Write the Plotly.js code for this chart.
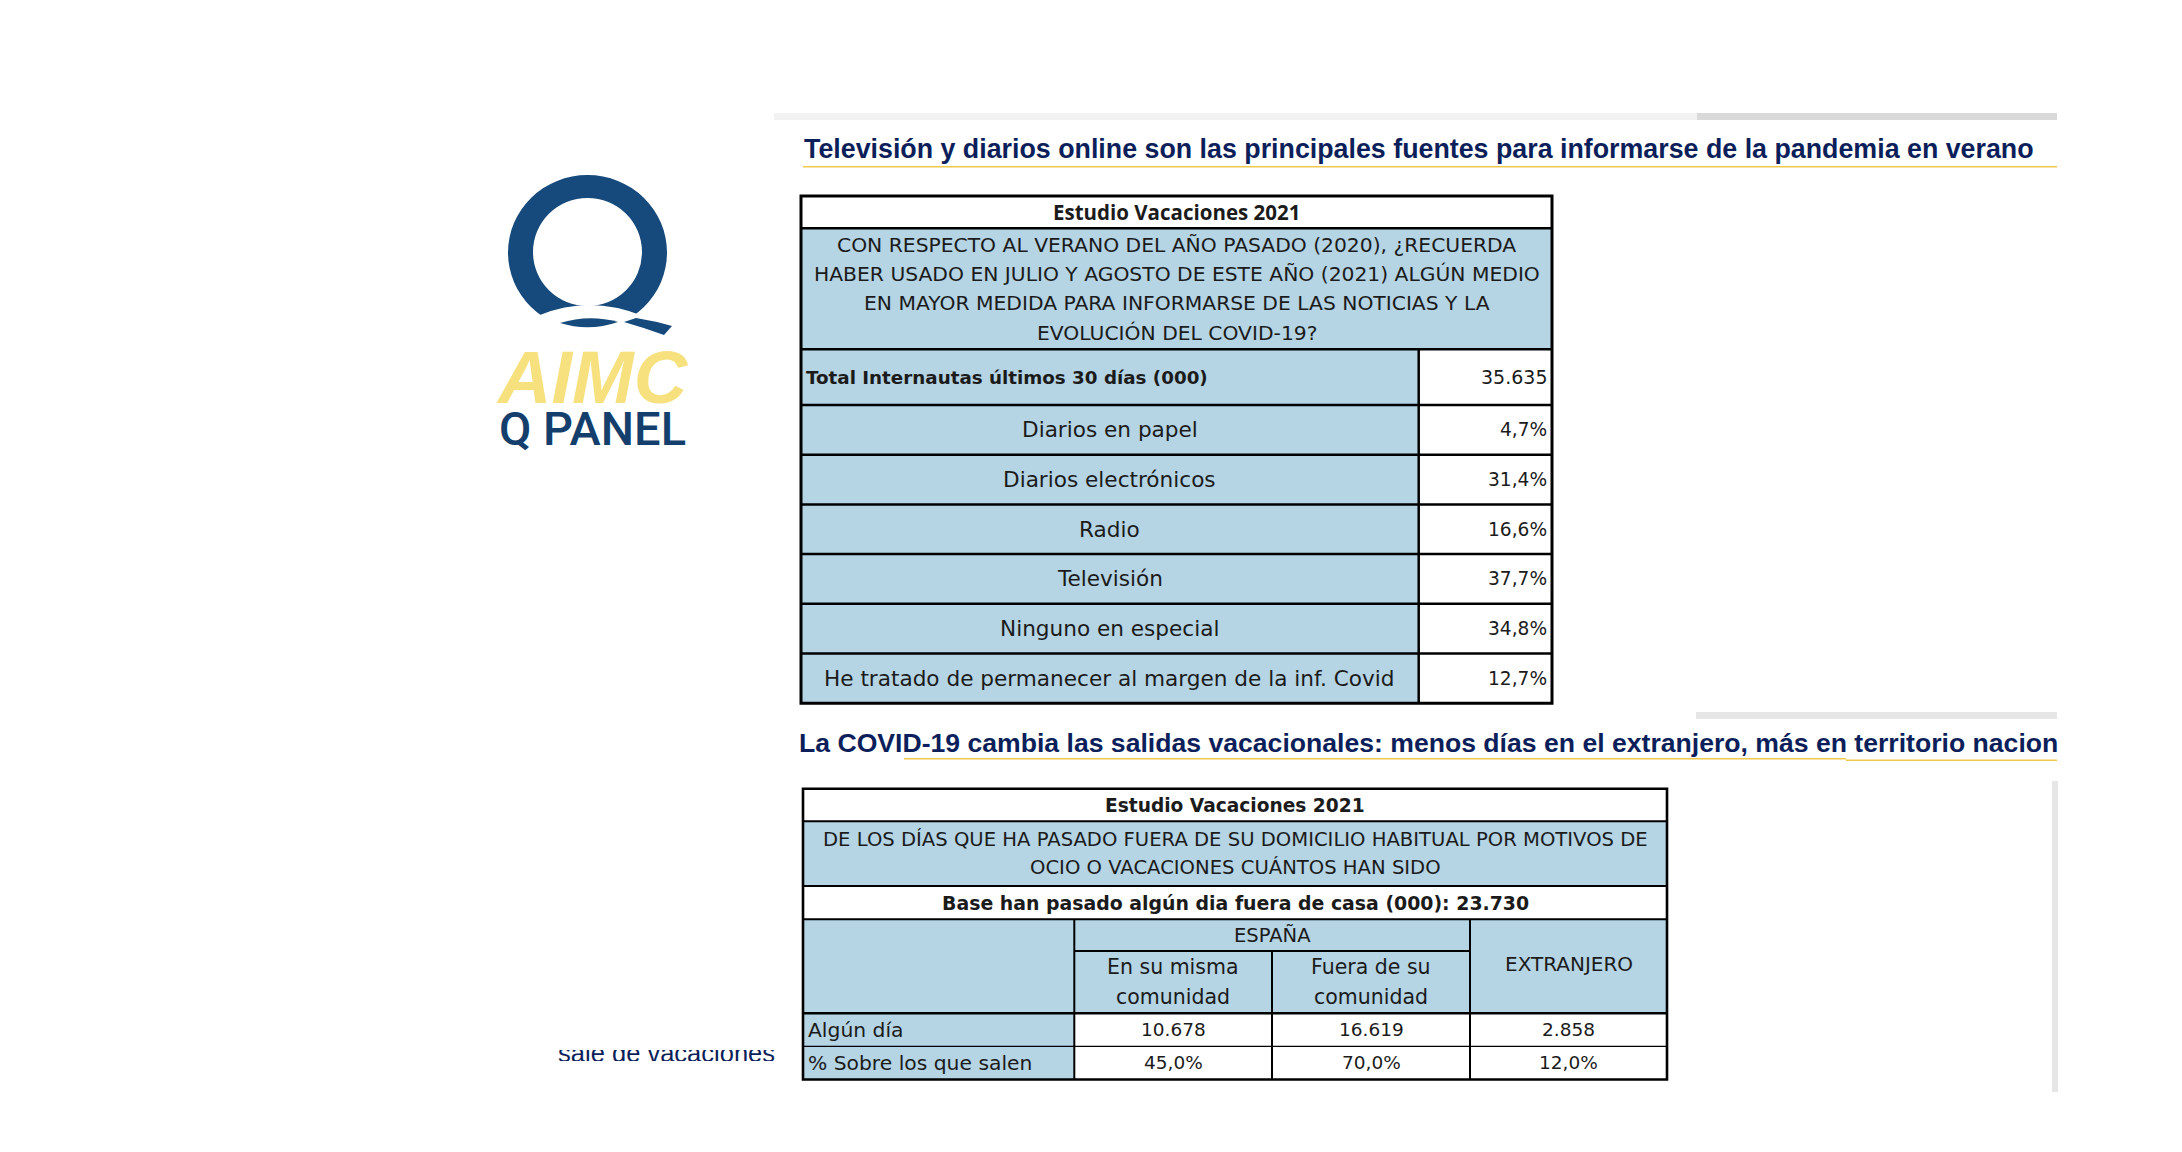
<!DOCTYPE html>
<html>
<head>
<meta charset="utf-8">
<script src="https://cdn.plot.ly/plotly-3.0.1.min.js"></script>
<style>html,body{margin:0;padding:0;background:#ffffff;overflow:hidden}</style>
</head>
<body>
<div id="chart" style="width:2182px;height:1152px"></div>
<script>
// ================= DATA =================
const slideTitle1 = "Televisión y diarios online son las principales fuentes para informarse de la pandemia en verano";
const slideTitle2 = "La COVID-19 cambia las salidas vacacionales: menos días en el extranjero, más en territorio nacion";
const studyName = "Estudio Vacaciones 2021";
const mediaQuestionLines = [
  "CON RESPECTO AL VERANO DEL AÑO PASADO (2020), ¿RECUERDA",
  "HABER USADO EN JULIO Y AGOSTO DE ESTE AÑO (2021) ALGÚN MEDIO",
  "EN MAYOR MEDIDA PARA INFORMARSE DE LAS NOTICIAS Y LA",
  "EVOLUCIÓN DEL COVID-19?"
];
const internautasLabel = "Total Internautas últimos 30 días (000)";
const internautasTotal = 35635;
const mediaCategories = [
  "Diarios en papel",
  "Diarios electrónicos",
  "Radio",
  "Televisión",
  "Ninguno en especial",
  "He tratado de permanecer al margen de la inf. Covid"
];
const mediaShares = [4.7, 31.4, 16.6, 37.7, 34.8, 12.7];

const tripsQuestionLines = [
  "DE LOS DÍAS QUE HA PASADO FUERA DE SU DOMICILIO HABITUAL POR MOTIVOS DE",
  "OCIO O VACACIONES CUÁNTOS HAN SIDO"
];
const tripsBaseLabel = "Base han pasado algún dia fuera de casa (000): ";
const tripsBase = 23730;
const spainGroup = "ESPAÑA";
const destinationCategories = [["En su misma", "comunidad"], ["Fuera de su", "comunidad"], ["EXTRANJERO"]];
const tripRowLabels = ["Algún día", "% Sobre los que salen"];
const tripDaysThousands = [10678, 16619, 2858];
const tripSharePct = [45.0, 70.0, 12.0];

const logoWords = ["AIMC", "Q PANEL"];
const hiddenFragment = "sale de vacaciones";

// ================= FORMATTERS =================
const fmtThousands = n => String(n).replace(/\B(?=(\d{3})+(?!\d))/g, ".");
const fmtPct = v => v.toFixed(1).replace(".", ",") + "%";

// ================= STYLE / LAYOUT CONSTANTS =================
const W = 2182, H = 1152;
const BLUE = "#b5d4e4", NAVY_T = "#0c1f5b", GOLD = "#efc94c", INK = "#1b1b1b";
const LOGO_NAVY = "#164a7c", LOGO_YEL = "#f6e17e";
const CG = "DejaVu Sans";           // stand-in for Century Gothic
const CAL = "Open Sans";            // stand-in for Calibri
const ARIAL = "Liberation Sans, Arial";

const T1 = {x0: 801, x1: 1552, xs: 1418.7, y0: 196, headH: 32.3, qH: 121, baseH: 55.7, rowH: 49.7, qLine: 29.2};
const T2 = {xs: [803, 1074.3, 1272, 1470, 1667], y0: 788.7, headH: 32.6, qH: 64.7, baseH: 33.3,
            groupH: 31.7, subH: 62.3, rowH: 33.1, qLine: 28.4, subLine: 30};

const shapes = [];
const ann = [];
function rect(x0, y0, x1, y1, fill, layer) {
  shapes.push({type: "rect", xref: "x", yref: "y", x0, y0, x1, y1, fillcolor: fill, line: {width: 0}, layer: layer || "below"});
}
function seg(x0, y0, x1, y1, w, color, layer) {
  shapes.push({type: "line", xref: "x", yref: "y", x0, y0, x1, y1, line: {width: w, color: color || "#000"}, layer: layer || "below"});
}
function path(d, fill, layer) {
  shapes.push({type: "path", xref: "x", yref: "y", path: d, fillcolor: fill, line: {width: 0}, layer: layer || "below"});
}
function txt(x, y, text, font, xanchor) {
  ann.push({x, y, xref: "x", yref: "y", text, showarrow: false, xanchor: xanchor || "center", yanchor: "middle",
            font: Object.assign({color: INK}, font), borderpad: 0});
}

// ================= DECORATION (slide frame) =================
rect(774, 113, 1697, 120, "#f2f2f2");
rect(1697, 113, 2057, 120, "#d9d9d9");
rect(1696, 712, 2057, 719, "#e6e6e6");
rect(2052, 781, 2058, 1092, "#e6e6e6");
seg(803, 166.7, 2057, 166.7, 1.6, GOLD);
seg(904, 758.7, 1846, 758.7, 1.6, GOLD);
seg(1846, 760.3, 2057, 760.3, 1.6, GOLD);
txt(803, 149, "<b>" + slideTitle1 + "</b>", {family: ARIAL, size: 26.8, color: NAVY_T}, "left");
txt(798, 743, "<b>" + slideTitle2 + "</b>", {family: ARIAL, size: 26.6, color: NAVY_T}, "left");
// clip title 2 at the slide edge
rect(2060, 720, 2182, 760, "#ffffff", "above");

// ================= LOGO =================
shapes.push({type: "circle", xref: "x", yref: "y", x0: 508, y0: 175, x1: 667, y1: 330, fillcolor: LOGO_NAVY, line: {width: 0}, layer: "below"});
shapes.push({type: "circle", xref: "x", yref: "y", x0: 533, y0: 198, x1: 642, y1: 306, fillcolor: "#ffffff", line: {width: 0}, layer: "below"});
path("M 528 322 L 540 315 Q 590 294.5 643 316 L 668 318 L 668 340 L 528 340 Z", "#ffffff");
path("M 560 323 Q 589 314 618 322 Q 589 332 560 323 Z", LOGO_NAVY);
path("M 624 322 L 636 318 Q 655 321 672 326 L 664 335 Q 645 328 624 322 Z", LOGO_NAVY);
// logo words as one stacked text block (tight logo spacing)
txt(592, 396,
  '<span style="font-size:74px;color:' + LOGO_YEL + ';font-family:Liberation Sans"><b><i>' + logoWords[0] + '</i></b></span>' +
  '<br><span style="font-size:47px;color:#143f6d;font-family:Roboto;font-weight:500">' + logoWords[1] + '</span>',
  {family: ARIAL, size: 32.3, color: "#143f6d"});
seg(494, 388, 692, 388, 2.2, "#ffffff", "above");
seg(494, 394, 692, 394, 2.2, "#ffffff", "above");

// ================= TABLE 1 =================
(function () {
  const {x0, x1, xs, y0, headH, qH, baseH, rowH, qLine} = T1;
  const yQ = y0 + headH, yBase = yQ + qH, yBody = yBase + baseH;
  const yEnd = yBody + mediaCategories.length * rowH;
  rect(x0, y0, x1, yQ, "#ffffff");
  rect(x0, yQ, x1, yBase, BLUE);
  rect(x0, yBase, xs, yEnd, BLUE);
  rect(xs, yBase, x1, yEnd, "#ffffff");
  // borders
  [yQ, yBase].forEach(y => seg(x0, y, x1, y, 2.5));
  mediaCategories.forEach((c, i) => { if (i > 0) seg(x0, yBody + i * rowH, x1, yBody + i * rowH, 2.5); });
  seg(x0, yBody, x1, yBody, 2.5);
  seg(xs, yBase, xs, yEnd, 2.5);
  shapes.push({type: "rect", xref: "x", yref: "y", x0, y0, x1, y1: yEnd, line: {width: 3, color: "#000"}, fillcolor: "rgba(0,0,0,0)", layer: "below"});
  // text
  txt((x0 + x1) / 2, y0 + headH / 2, "<b>" + studyName + "</b>", {family: CAL, size: 20.5});
  mediaQuestionLines.forEach((l, i) => {
    txt((x0 + x1) / 2, yQ + qH / 2 + (i - (mediaQuestionLines.length - 1) / 2) * qLine, l, {family: CG, size: 20.3});
  });
  txt(x0 + 4, yBase + baseH / 2, "<b>" + internautasLabel + "</b>", {family: CG, size: 18.3}, "left");
  txt(x1 - 4, yBase + baseH / 2, fmtThousands(internautasTotal), {family: CG, size: 19}, "right");
  mediaCategories.forEach((c, i) => {
    const yc = yBody + (i + 0.5) * rowH;
    txt((x0 + xs) / 2, yc, c, {family: CG, size: 21.6});
    txt(x1 - 4, yc, fmtPct(mediaShares[i]), {family: CG, size: 18.6}, "right");
  });
})();

// ================= TABLE 2 =================
(function () {
  const {xs, y0, headH, qH, baseH, groupH, subH, rowH, qLine, subLine} = T2;
  const x0 = xs[0], x1 = xs[xs.length - 1];
  const yQ = y0 + headH, yBase = yQ + qH, yGroup = yBase + baseH, ySub = yGroup + groupH, yData = ySub + subH;
  const yEnd = yData + tripRowLabels.length * rowH;
  rect(x0, y0, x1, yQ, "#ffffff");
  rect(x0, yQ, x1, yBase, BLUE);
  rect(x0, yBase, x1, yGroup, "#ffffff");
  rect(x0, yGroup, x1, yData, BLUE);
  rect(x0, yData, xs[1], yEnd, BLUE);
  rect(xs[1], yData, x1, yEnd, "#ffffff");
  // borders
  [yQ, yBase, yGroup].forEach(y => seg(x0, y, x1, y, 2));
  seg(xs[1], ySub, xs[3], ySub, 2.2);
  seg(x0, yData, x1, yData, 2.5);
  tripRowLabels.forEach((r, i) => { if (i > 0) seg(x0, yData + i * rowH, x1, yData + i * rowH, 1.4); });
  seg(xs[1], yGroup, xs[1], yEnd, 2);
  seg(xs[2], ySub, xs[2], yEnd, 2);
  seg(xs[3], yGroup, xs[3], yEnd, 2);
  shapes.push({type: "rect", xref: "x", yref: "y", x0, y0, x1, y1: yEnd, line: {width: 2.6, color: "#000"}, fillcolor: "rgba(0,0,0,0)", layer: "below"});
  // text
  const cx = (x0 + x1) / 2;
  txt(cx, y0 + headH / 2, "<b>" + studyName + "</b>", {family: CG, size: 18.6});
  tripsQuestionLines.forEach((l, i) => {
    txt(cx, yQ + qH / 2 + (i - (tripsQuestionLines.length - 1) / 2) * qLine, l, {family: CG, size: 19.6});
  });
  txt(cx, yBase + baseH / 2, "<b>" + tripsBaseLabel + fmtThousands(tripsBase) + "</b>", {family: CG, size: 18.9});
  txt((xs[1] + xs[3]) / 2, yGroup + groupH / 2, spainGroup, {family: CG, size: 19.5});
  destinationCategories.forEach((lines, j) => {
    const xc = (xs[j + 1] + xs[j + 2]) / 2;
    if (lines.length === 1) {
      txt(xc, (yGroup + yData) / 2 - 2, lines[0], {family: CG, size: 20});
    } else {
      lines.forEach((l, k) => txt(xc, ySub + subH / 2 + (k - 0.5) * subLine, l, {family: CG, size: 20.5}));
    }
  });
  tripRowLabels.forEach((r, i) => {
    const yc = yData + (i + 0.5) * rowH;
    txt(x0 + 4, yc, r, {family: CG, size: 20.3}, "left");
    const vals = i === 0 ? tripDaysThousands.map(fmtThousands) : tripSharePct.map(fmtPct);
    vals.forEach((v, j) => txt((xs[j + 1] + xs[j + 2]) / 2, yc, v, {family: CG, size: 18.5}));
  });
})();

// partially hidden fragment at bottom-left (text clipped by slide overlap)
shapes.push({type: "rect", xref: "x", yref: "y", x0: 540, y0: 1020, x1: 790, y1: 1050, fillcolor: "#ffffff", line: {width: 0}, layer: "above"});
shapes.push({type: "rect", xref: "x", yref: "y", x0: 540, y0: 1061, x1: 790, y1: 1090, fillcolor: "#ffffff", line: {width: 0}, layer: "above"});

const traces = [{
  type: "scatter", mode: "text", x: [775], y: [1056], text: [hiddenFragment],
  textposition: "middle left", textfont: {family: ARIAL, size: 25.5, color: NAVY_T},
  hoverinfo: "skip", showlegend: false, cliponaxis: false
}];

const layout = {
  width: W, height: H, margin: {l: 0, r: 0, t: 0, b: 0},
  paper_bgcolor: "#ffffff", plot_bgcolor: "#ffffff", showlegend: false,
  xaxis: {range: [0, W], visible: false, fixedrange: true},
  yaxis: {range: [H, 0], visible: false, fixedrange: true},
  shapes, annotations: ann, hovermode: false
};
Plotly.newPlot("chart", traces, layout, {displayModeBar: false, staticPlot: true});
</script>
</body>
</html>
